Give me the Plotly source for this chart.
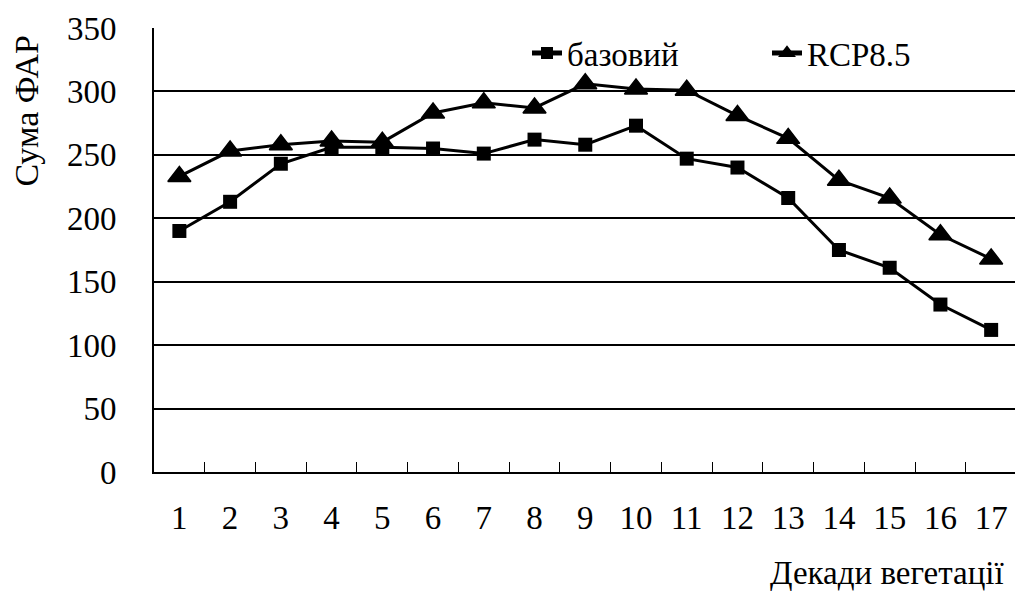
import plotly.graph_objects as go

decades = [str(i) for i in range(1, 18)]
base_vals = [190, 213, 243, 256, 256, 255, 251, 262, 258, 273, 247, 240, 216, 175, 161, 132, 112]
rcp_vals = [233, 253, 258, 261, 260, 283, 291, 287, 306, 302, 301, 281, 263, 230, 216, 187, 168]
y_ticks = [0, 50, 100, 150, 200, 250, 300, 350]

FONT = "Liberation Serif, Times New Roman, serif"
FS = 33

fig = go.Figure()
fig.add_trace(go.Scatter(
    x=decades, y=base_vals, name="базовий", mode="lines+markers",
    line=dict(color="black", width=3),
    marker=dict(symbol="square", size=14, color="black"),
))
fig.add_trace(go.Scatter(
    x=decades, y=rcp_vals, name="RCP8.5", mode="lines+markers",
    line=dict(color="black", width=3),
    marker=dict(symbol="triangle-up", size=20, color="black", line=dict(color="black", width=1.5)),
))

fig.update_layout(
    width=1015, height=593,
    margin=dict(l=154, r=0, t=28, b=121, autoexpand=False),
    paper_bgcolor="white", plot_bgcolor="white",
    font=dict(family=FONT, size=FS, color="black"),
    showlegend=True,
    legend=dict(
        orientation="h", x=(527 - 154) / 861, y=1 - (53 - 28) / 443.5,
        xanchor="left", yanchor="middle",
        bgcolor="rgba(0,0,0,0)", font=dict(family=FONT, size=FS, color="black"),
        entrywidth=195, entrywidthmode="pixels", itemsizing="constant",
    ),
    xaxis=dict(
        type="category", range=[-0.5, 16.47],
        showline=True, linecolor="black", linewidth=2, mirror=False,
        showgrid=False, zeroline=False,
        ticks="inside", ticklen=10, tickwidth=1, tickcolor="black",
        tickson="boundaries",
        tickfont=dict(family=FONT, size=FS, color="black"),
        ticklabelstandoff=15,
    ),
    yaxis=dict(
        range=[0, 350], tickvals=y_ticks,
        showline=True, linecolor="black", linewidth=2,
        showgrid=True, gridcolor="black", gridwidth=2, zeroline=False,
        ticks="", tickfont=dict(family=FONT, size=FS, color="black"),
        ticklabelstandoff=29,
    ),
    annotations=[
        dict(text="Сума ФАР", xref="paper", yref="paper", x=(26 - 154) / 861, y=1.0,
             xanchor="center", yanchor="top", textangle=-90, showarrow=False,
             yshift=-6,
             font=dict(family=FONT, size=34, color="black")),
        dict(text="Декади вегетації", xref="paper", yref="paper", x=1.0, y=0.0,
             xanchor="right", yanchor="middle", showarrow=False,
             xshift=-8, yshift=-(573 - 472),
             font=dict(family=FONT, size=FS, color="black")),
    ],
)

fig.write_html("out.html")
